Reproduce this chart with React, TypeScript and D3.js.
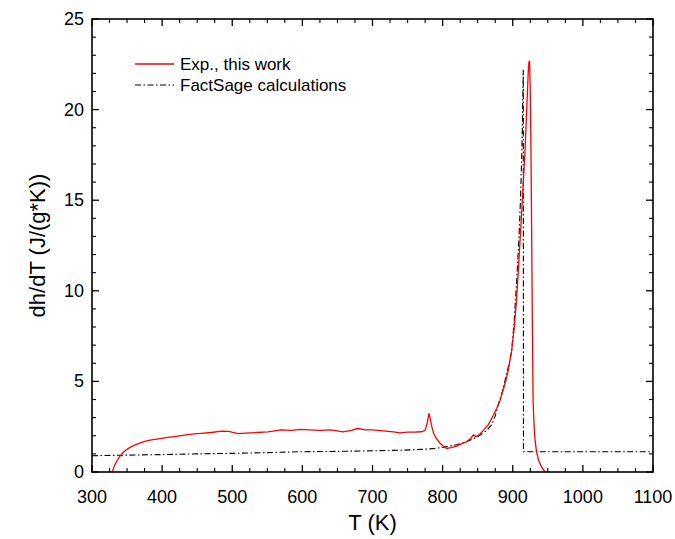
import React from "react";
import * as d3 from "d3";

const expT = [329, 332, 336, 340, 345, 350, 356, 362, 370, 378, 385, 395, 408, 420, 432, 445, 456, 470, 485, 495, 508, 520, 535, 551, 570, 585, 597, 610, 625, 640, 658, 670, 679, 690, 700, 715, 730, 739, 750, 760, 770, 775, 778, 780.5, 782, 784, 787, 791, 796, 801, 806, 812, 820, 827, 834, 840, 844, 848, 852, 858, 865, 872, 877, 882, 886, 890, 894, 898.5, 902, 905, 907.5, 910, 913, 915.5, 917.5, 919.5, 921, 922, 923, 924, 925, 926, 927, 928, 929, 930, 931, 932, 934, 937, 940, 944, 947];
const expY = [0, 0.35, 0.65, 0.88, 1.1, 1.25, 1.4, 1.5, 1.62, 1.72, 1.77, 1.83, 1.91, 1.97, 2.04, 2.1, 2.13, 2.18, 2.26, 2.24, 2.12, 2.15, 2.18, 2.22, 2.33, 2.3, 2.35, 2.33, 2.3, 2.32, 2.22, 2.3, 2.4, 2.33, 2.32, 2.27, 2.22, 2.16, 2.2, 2.2, 2.22, 2.3, 2.7, 3.23, 3.0, 2.6, 2.15, 1.85, 1.6, 1.42, 1.3, 1.35, 1.43, 1.55, 1.67, 1.85, 2.05, 1.95, 2.05, 2.3, 2.6, 3.1, 3.5, 3.96, 4.5, 5.0, 5.7, 6.7, 7.9, 9.3, 10.8, 12.5, 14.5, 16.3, 17.7, 19.6, 21.0, 22.0, 22.6, 22.7, 21.0, 17.7, 13.0, 8.0, 4.0, 2.9, 2.2, 1.7, 1.1, 0.65, 0.35, 0.1, 0];

const calcT = [300, 350, 400, 450, 500, 550, 600, 650, 700, 740, 770, 790, 806, 820, 834, 850, 863, 870, 875, 880, 885, 890, 895, 898.5, 902, 906, 909, 911, 913, 914, 915, 915.3, 1100];
const calcY = [0.9, 0.93, 0.96, 1.0, 1.03, 1.07, 1.12, 1.14, 1.17, 1.2, 1.25, 1.3, 1.4, 1.5, 1.67, 1.95, 2.3, 2.6, 3.1, 3.8, 4.4, 5.2, 6.0, 6.7, 8.3, 10.8, 13.0, 15.0, 17.7, 19.8, 22.2, 1.12, 1.12];

const xMajor = [300, 400, 500, 600, 700, 800, 900, 1000, 1100];
const yMajor = [0, 5, 10, 15, 20, 25];

const seriesNames = ["Exp., this work", "FactSage calculations"];

const W = 675, H = 539;
const L = 92, R = 653, T = 19, B = 472;

export default function App() {
  const x = d3.scaleLinear().domain([300, 1100]).range([L, R]);
  const y = d3.scaleLinear().domain([0, 25]).range([B, T]);
  const exp = expT.map((t, i) => [t, expY[i]] as [number, number]);
  const calc = calcT.map((t, i) => [t, calcY[i]] as [number, number]);
  const line = d3.line<[number, number]>().x(d => x(d[0])).y(d => y(d[1]));
  const xMinor = d3.range(300, 1100.1, 25).filter(v => v % 100 !== 0);
  const yMinor = d3.range(0, 25.1, 1).filter(v => v % 5 !== 0);
  const font = "'Liberation Sans', Arial, sans-serif";
  const dash = "6,2.5,1.5,2.5";
  return (
    <svg width={W} height={H} style={{ position: "absolute", left: 0, top: 0, background: "#fff" }} fontFamily={font}>
      <defs>
        <clipPath id="plotclip">
          <rect x={L} y={T} width={R - L} height={B - T} />
        </clipPath>
      </defs>
      <g clipPath="url(#plotclip)">
        <path d={line(calc) || ""} fill="none" stroke="#000" strokeWidth={1.1} strokeDasharray={dash} />
        <path d={line(exp) || ""} fill="none" stroke="#ff0000" strokeWidth={1.3} />
      </g>
      {/* ticks */}
      {xMajor.map(v => (
        <g key={"xM" + v}>
          <line x1={x(v)} x2={x(v)} y1={B} y2={B - 7} stroke="#000" strokeWidth={1.3} />
          <line x1={x(v)} x2={x(v)} y1={T} y2={T + 7} stroke="#000" strokeWidth={1.3} />
          <text x={x(v)} y={B + 31} fontSize={18} textAnchor="middle">{v}</text>
        </g>
      ))}
      {xMinor.map(v => (
        <g key={"xm" + v}>
          <line x1={x(v)} x2={x(v)} y1={B} y2={B - 4} stroke="#000" strokeWidth={1.1} />
          <line x1={x(v)} x2={x(v)} y1={T} y2={T + 4} stroke="#000" strokeWidth={1.1} />
        </g>
      ))}
      {yMajor.map(v => (
        <g key={"yM" + v}>
          <line x1={L} x2={L + 7} y1={y(v)} y2={y(v)} stroke="#000" strokeWidth={1.3} />
          <line x1={R} x2={R - 7} y1={y(v)} y2={y(v)} stroke="#000" strokeWidth={1.3} />
          <text x={L - 8} y={y(v) + 6} fontSize={18} textAnchor="end">{v}</text>
        </g>
      ))}
      {yMinor.map(v => (
        <g key={"ym" + v}>
          <line x1={L} x2={L + 4} y1={y(v)} y2={y(v)} stroke="#000" strokeWidth={1.1} />
          <line x1={R} x2={R - 4} y1={y(v)} y2={y(v)} stroke="#000" strokeWidth={1.1} />
        </g>
      ))}
      <rect x={L} y={T} width={R - L} height={B - T} fill="none" stroke="#000" strokeWidth={1.6} />
      {/* axis titles */}
      <text x={(L + R) / 2} y={530} fontSize={22} textAnchor="middle">T (K)</text>
      <text transform={`translate(45,${(T + B) / 2}) rotate(-90)`} fontSize={22} textAnchor="middle">dh/dT (J/(g*K))</text>
      {/* legend */}
      <line x1={135} x2={174} y1={64} y2={64} stroke="#ff0000" strokeWidth={1.3} />
      <text x={180} y={70} fontSize={17}>{seriesNames[0]}</text>
      <line x1={135} x2={174} y1={85} y2={85} stroke="#000" strokeWidth={1.1} strokeDasharray={dash} />
      <text x={180} y={91} fontSize={17}>{seriesNames[1]}</text>
    </svg>
  );
}
